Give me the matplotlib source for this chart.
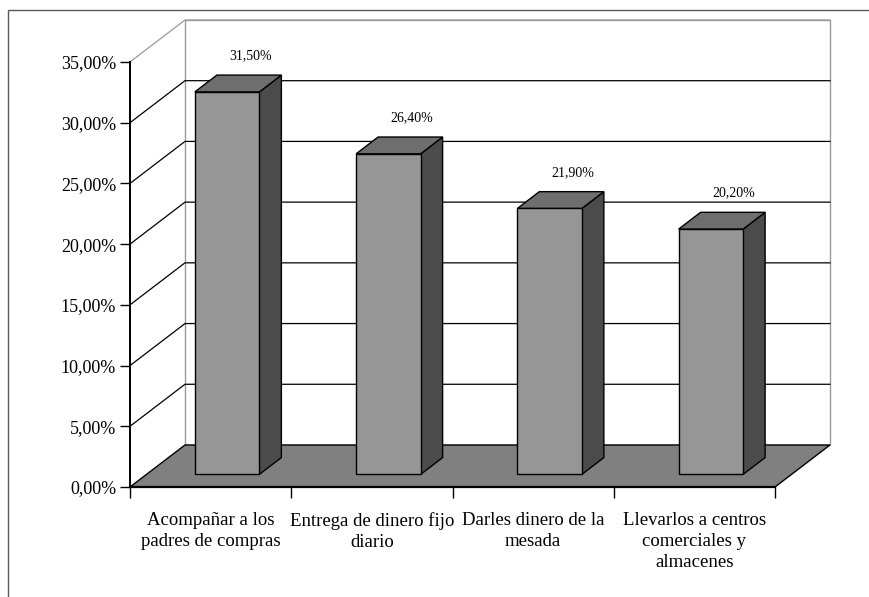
import matplotlib.pyplot as plt
from matplotlib.patches import Polygon, Rectangle
from matplotlib.lines import Line2D
from matplotlib.ticker import FuncFormatter

categories = [
    "Acompañar a los\npadres de compras",
    "Entrega de dinero fijo\ndiario",
    "Darles dinero de la\nmesada",
    "Llevarlos a centros\ncomerciales y\nalmacenes",
]
values = [31.5, 26.4, 21.9, 20.2]
y_ticks = [0, 5, 10, 15, 20, 25, 30, 35]

plt.rcParams["font.family"] = ["Liberation Serif", "DejaVu Serif"]

# oblique offset of the back wall, in data units (categories, percent)
DX, DY = 0.341, 3.46
BAR_W = 0.4
D0, D1 = 0.3, 0.7  # bar depth range (fraction of floor depth)

FRONT = "#969696"
SIDE = "#4b4b4b"
TOP = "#6e6e6e"
FLOOR = "#808080"
WALL_EDGE = "#9a9a9a"

fig = plt.figure(figsize=(8.69, 5.97), dpi=100)
fig.patch.set_facecolor("white")

# outer chart frame
fig.add_artist(Rectangle((8 / 869, -0.05), 1.2, (597 - 10) / 597 + 0.05,
                         transform=fig.transFigure, fill=False,
                         edgecolor="#5a5a5a", lw=1.0))

ax = fig.add_axes([130 / 869, 1 - 487 / 597, 645 / 869, 425 / 597])
n = len(categories)
ymax = y_ticks[-1]
ax.set_xlim(0, n)
ax.set_ylim(0, ymax)
ax.set_facecolor("none")
for s in ["top", "right"]:
    ax.spines[s].set_visible(False)
ax.spines["left"].set_linewidth(1.4)
ax.spines["bottom"].set_linewidth(1.6)
ax.spines["left"].set_zorder(10)
ax.spines["bottom"].set_zorder(10)

# back wall
ax.add_patch(Polygon([(DX, DY), (n + DX, DY), (n + DX, ymax + DY), (DX, ymax + DY)],
                     closed=True, facecolor="white", edgecolor=WALL_EDGE,
                     lw=1.0, clip_on=False, zorder=1))

# gridlines on side and back walls
for v in y_ticks[1:]:
    col = WALL_EDGE if v == ymax else "black"
    ax.add_line(Line2D([0, DX, n + DX], [v, v + DY, v + DY], color=col,
                       lw=0.9, clip_on=False, zorder=2))

# floor
ax.add_patch(Polygon([(0, 0), (n, 0), (n + DX, DY), (DX, DY)], closed=True,
                     facecolor=FLOOR, edgecolor="black", lw=1.0,
                     clip_on=False, zorder=3))

# 3D bars
for i, v in enumerate(values):
    x0 = i + 0.5 - BAR_W / 2 + D0 * DX
    x1 = x0 + BAR_W
    y0 = D0 * DY
    ddx = (D1 - D0) * DX
    ddy = (D1 - D0) * DY
    front = [(x0, y0), (x1, y0), (x1, y0 + v), (x0, y0 + v)]
    side = [(x1, y0), (x1 + ddx, y0 + ddy), (x1 + ddx, y0 + v + ddy), (x1, y0 + v)]
    top = [(x0, y0 + v), (x1, y0 + v), (x1 + ddx, y0 + v + ddy), (x0 + ddx, y0 + v + ddy)]
    for pts, fc in [(side, SIDE), (top, TOP), (front, FRONT)]:
        ax.add_patch(Polygon(pts, closed=True, facecolor=fc, edgecolor="black",
                             lw=1.0, clip_on=False, zorder=4, joinstyle="miter"))
    ax.text(i + 0.5 + 0.72 * DX, v + 4.0, f"{v:.2f}%".replace(".", ","),
            ha="center", va="center", fontsize=10, zorder=5)

# axes ticks and labels
ax.set_yticks(y_ticks)
ax.yaxis.set_major_formatter(FuncFormatter(lambda y, _: f"{y:.2f}%".replace(".", ",")))
ax.tick_params(axis="y", length=7, width=1.0, pad=3, labelsize=13)

ax.set_xticks(range(n + 1))
ax.set_xticklabels([""] * (n + 1))
ax.tick_params(axis="x", which="major", length=8, width=1.0, direction="out")
ax.set_xticks([i + 0.5 for i in range(n)], minor=True)
ax.set_xticklabels(categories, minor=True, fontsize=13.5, linespacing=1.3)
ax.tick_params(axis="x", which="minor", length=0, pad=18)

fig.savefig("out.png", dpi=100)
